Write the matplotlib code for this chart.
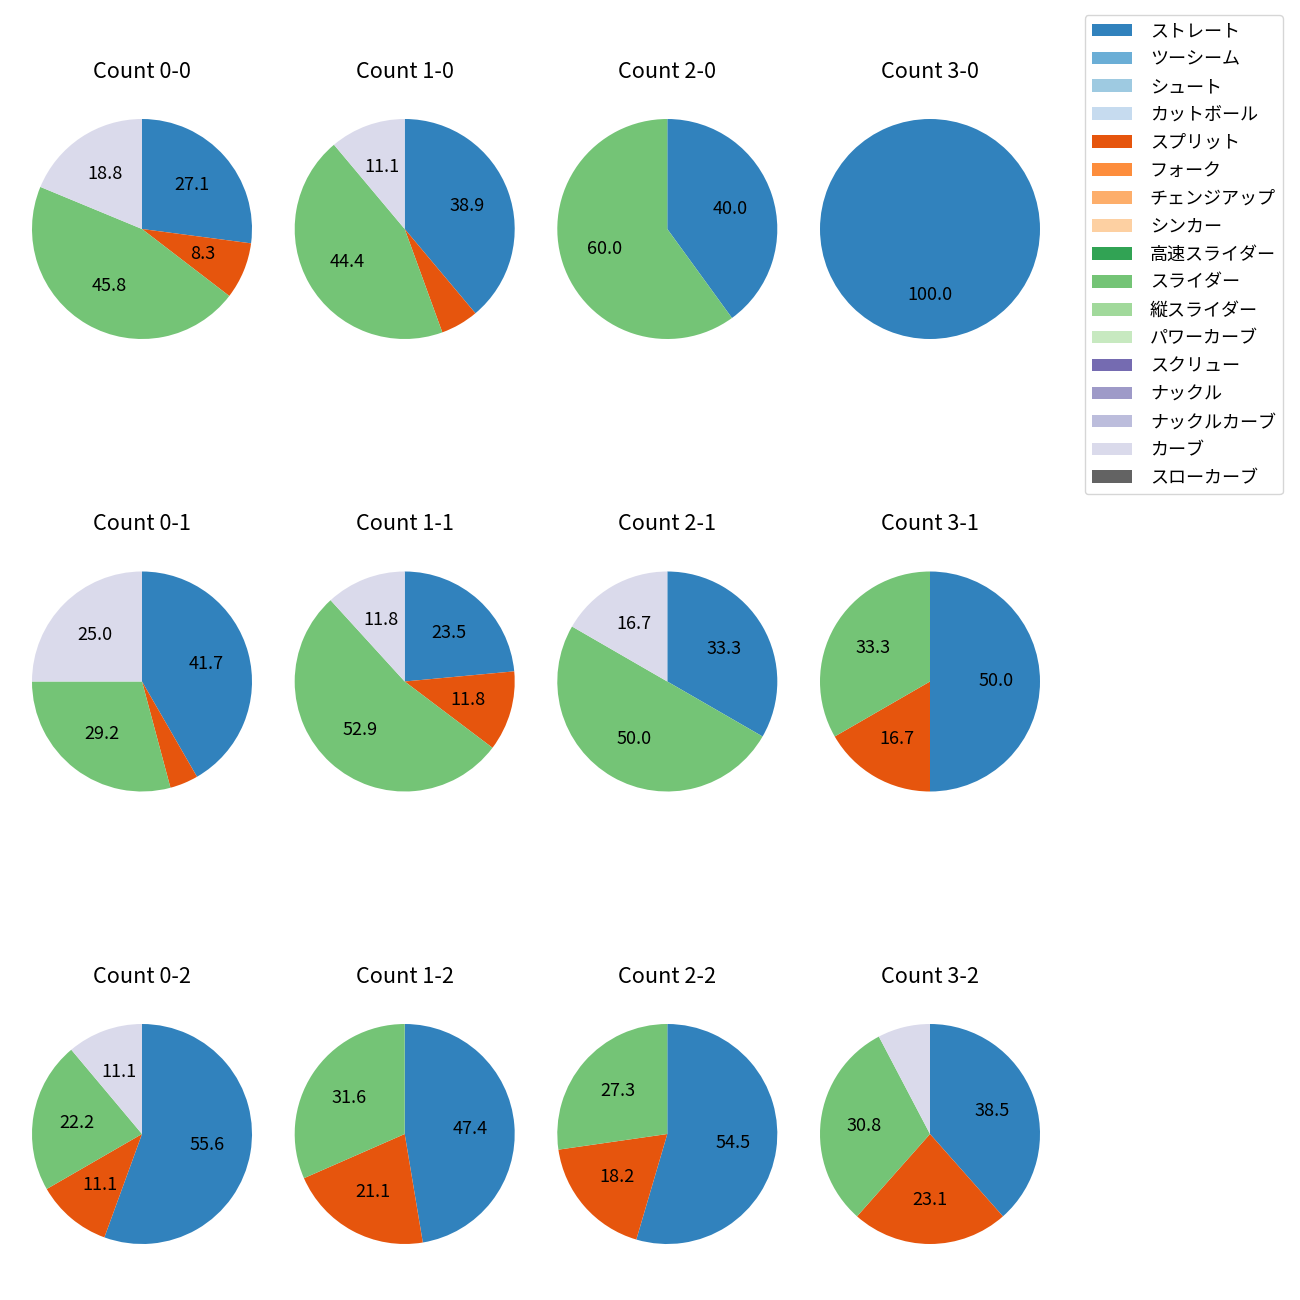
import matplotlib
matplotlib.use("Agg")
import matplotlib.pyplot as plt
from matplotlib.patches import Patch

plt.rcParams['font.family'] = ['Noto Sans CJK JP', 'DejaVu Sans']

pitch_types = ['ストレート', 'ツーシーム', 'シュート', 'カットボール', 'スプリット', 'フォーク',
               'チェンジアップ', 'シンカー', '高速スライダー', 'スライダー', '縦スライダー',
               'パワーカーブ', 'スクリュー', 'ナックル', 'ナックルカーブ', 'カーブ', 'スローカーブ']

counts = ['0-0', '1-0', '2-0', '3-0',
          '0-1', '1-1', '2-1', '3-1',
          '0-2', '1-2', '2-2', '3-2']

# pitch counts per count: straight, split, slider, curve
straight = [13, 7, 2, 1, 10, 4, 2, 3, 5, 9, 6, 5]
split    = [4, 1, 0, 0, 1, 2, 0, 1, 1, 4, 2, 3]
slider   = [22, 8, 3, 0, 7, 9, 3, 2, 2, 6, 3, 4]
curve    = [9, 2, 0, 0, 6, 2, 1, 0, 1, 0, 0, 1]

cmap = plt.get_cmap('tab20c')
colors = {name: cmap(i) for i, name in enumerate(pitch_types)}

fig = plt.figure(figsize=(13, 13), dpi=100)
W = H = 1300.0
col_cx = [142, 404.7, 667.3, 930]
row_cy = [229, 681.5, 1134]
box = 275.0

series = [('ストレート', straight), ('スプリット', split), ('スライダー', slider), ('カーブ', curve)]

for i, cnt in enumerate(counts):
    r, c = divmod(i, 4)
    cx, cy = col_cx[c], row_cy[r]
    ax = fig.add_axes([(cx - box / 2) / W, 1 - (cy + box / 2) / H, box / W, box / H])
    vals, cols = [], []
    for name, arr in series:
        if arr[i] > 0:
            vals.append(arr[i])
            cols.append(colors[name])
    ax.pie(vals, colors=cols, startangle=90, counterclock=False,
           autopct=lambda p: f'{p:.1f}' if p >= 8 else '',
           textprops={'fontsize': 13})
    ax.set_title(f'Count {cnt}', fontsize=15.6, pad=10)

handles = [Patch(facecolor=colors[n], label=n) for n in pitch_types]
fig.legend(handles=handles, loc='upper right',
           bbox_to_anchor=(1283 / W, 1 - 15 / H), borderaxespad=0, fontsize=13,
           labelspacing=0.55, handlelength=2.2, handletextpad=1.0)

fig.savefig('out.png', dpi=100)
